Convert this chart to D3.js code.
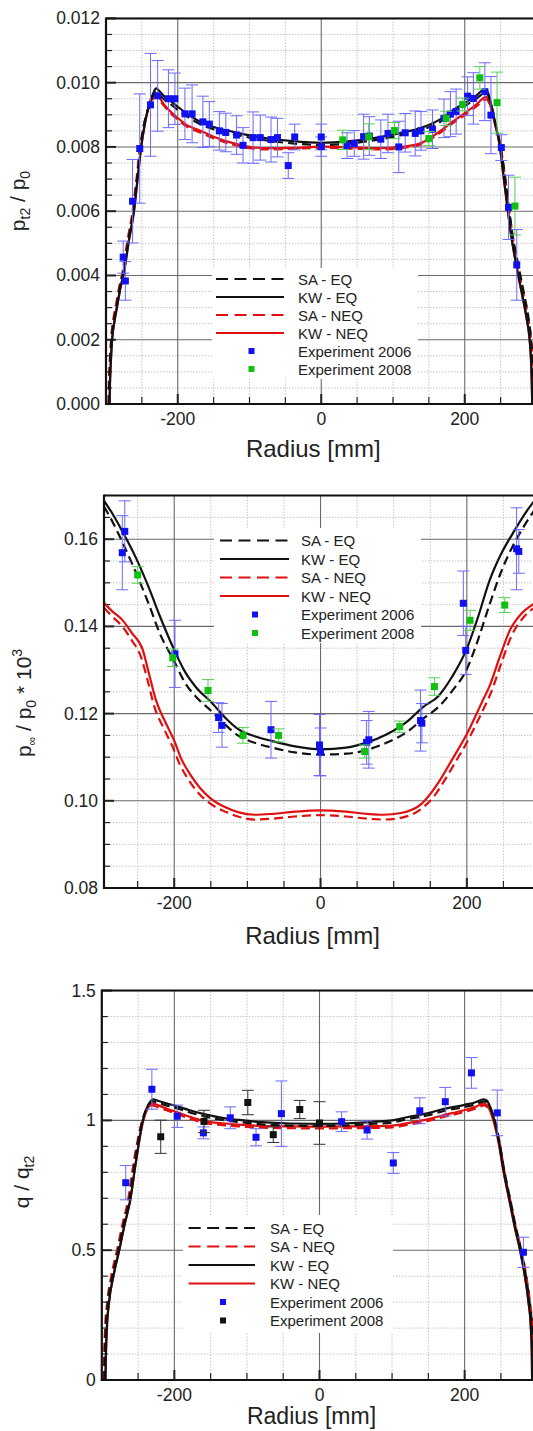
<!DOCTYPE html>
<html><head><meta charset="utf-8">
<script src="https://cdn.jsdelivr.net/npm/d3@7"></script>
<style>
body{margin:0;background:#fff}
svg{display:block}
text{font-family:"Liberation Sans",Arial,Helvetica,sans-serif;fill:#222}
</style>
</head><body>
<svg id="c" width="533" height="1431"></svg>
<script>
// ---------------- DATA ----------------
const radiusMajor = [-200, 0, 200];
const radiusMinor = [-250, -150, -100, -50, 50, 100, 150, 250];
const radiusTickLabels = ["-200", "0", "200"];

// Panel 1: p_t2 / p_0
const p1YMajor = [0, 0.002, 0.004, 0.006, 0.008, 0.010, 0.012];
const p1YLabels = ["0.000", "0.002", "0.004", "0.006", "0.008", "0.010", "0.012"];
const p1SAEQ = [[-296,0],[-295.5,0.0006],[-294.5,0.0012],[-292.5,0.002],[-289,0.0026],[-285,0.0031],[-281,0.0036],[-276,0.0041],[-269,0.0051],[-262,0.0060],[-257,0.0070],[-252,0.0080],[-247,0.0087],[-241,0.0092],[-235,0.00958],[-231,0.00970],[-227,0.00965],[-220,0.00950],[-210,0.00933],[-200,0.00915],[-185,0.00892],[-170,0.00872],[-150,0.00855],[-123,0.00840],[-100,0.00829],[-76,0.00820],[-40,0.00811],[0,0.00806],[40,0.00811],[80,0.00823],[110,0.00836],[140,0.00853],[165,0.00877],[184,0.00906],[200,0.00928],[215,0.00948],[228,0.00968],[232,0.00963],[237,0.0093],[243,0.0087],[250,0.0080],[256,0.0071],[261,0.0062],[267,0.0052],[274,0.0044],[282,0.0035],[288,0.0028],[292,0.0021],[294.5,0.0013],[295.5,0.0006],[296,0]];
const p1KWEQ = [[-295,0],[-294.5,0.0006],[-293.5,0.0012],[-291.5,0.002],[-288,0.0026],[-284,0.0031],[-280,0.0036],[-275,0.0041],[-268,0.0051],[-261,0.0060],[-256,0.0070],[-251,0.0080],[-246,0.0087],[-240,0.0093],[-234,0.00968],[-230,0.00982],[-226,0.00975],[-220,0.00960],[-210,0.00943],[-200,0.00925],[-185,0.00900],[-170,0.00880],[-150,0.00862],[-123,0.00847],[-100,0.00836],[-76,0.00827],[-40,0.00818],[0,0.00813],[40,0.00818],[80,0.00830],[110,0.00843],[140,0.00860],[165,0.00885],[184,0.00915],[200,0.00937],[215,0.00958],[227,0.00978],[231,0.00975],[236,0.0094],[242,0.0088],[249,0.0080],[254,0.0071],[259,0.0062],[265,0.0052],[272,0.0043],[280,0.0034],[286,0.0027],[290,0.0021],[292.5,0.0013],[293.5,0.0006],[294,0]];
const p1SANEQ = [[-296.5,0],[-296,0.0006],[-295,0.0012],[-293,0.002],[-290,0.0026],[-286,0.0031],[-282,0.0036],[-277,0.0041],[-270,0.0051],[-263,0.0060],[-257.5,0.0070],[-252.5,0.0080],[-247,0.0087],[-241,0.0092],[-235,0.00948],[-231,0.00958],[-227,0.00950],[-220,0.00930],[-210,0.00905],[-200,0.00885],[-185,0.00860],[-170,0.00846],[-150,0.00827],[-123,0.00807],[-100,0.00796],[-76,0.00792],[-40,0.00794],[0,0.00797],[40,0.00795],[80,0.00792],[110,0.00796],[138,0.00807],[160,0.00835],[184,0.00875],[200,0.00899],[215,0.00924],[231,0.00948],[235,0.0093],[241,0.0088],[250,0.0080],[256,0.0071],[261,0.0062],[267,0.0052],[274,0.0043],[282,0.0034],[288,0.0027],[292,0.0021],[294.5,0.0013],[295.5,0.0006],[296,0]];
const p1KWNEQ = [[-295,0],[-294.5,0.0006],[-293.5,0.0012],[-291.5,0.002],[-288,0.0026],[-284,0.0031],[-280,0.0036],[-275,0.0041],[-268,0.0051],[-261,0.0060],[-256,0.0070],[-251,0.0080],[-246,0.0087],[-240,0.0093],[-234,0.00955],[-230,0.00966],[-226,0.00955],[-220,0.00935],[-210,0.00910],[-200,0.00890],[-185,0.00865],[-170,0.00852],[-150,0.00832],[-123,0.00812],[-100,0.00800],[-76,0.00796],[-40,0.00797],[0,0.00801],[40,0.00799],[80,0.00796],[110,0.00800],[138,0.00811],[160,0.00840],[184,0.00880],[200,0.00905],[215,0.00930],[230,0.00956],[234,0.0094],[240,0.0089],[249,0.0080],[254,0.0071],[259,0.0062],[265,0.0052],[272,0.0043],[280,0.0034],[286,0.0027],[290,0.0021],[292.5,0.0013],[293.5,0.0006],[294,0]];
// [radius, value, error]
const p1Exp2006 = [[-276,0.00457,0.0005],[-273,0.00383,0.0006],[-263,0.00631,0.0013],[-253,0.00795,0.0017],[-238,0.00931,0.0016],[-228,0.00959,0.0011],[-213,0.0095,0.0009],[-204,0.0095,0.0008],[-190,0.00903,0.0008],[-180,0.00903,0.0009],[-165,0.00878,0.0008],[-156,0.00871,0.0007],[-142,0.0085,0.0006],[-133,0.00845,0.0006],[-118,0.00837,0.0006],[-109,0.00805,0.00055],[-95,0.00829,0.0008],[-85,0.00829,0.0007],[-70,0.00823,0.0007],[-61,0.00829,0.0006],[-46,0.00742,0.0004],[-37,0.00831,0.0004],[0,0.00831,0.0004],[0,0.00801,0.0003],[36,0.00804,0.0004],[46,0.00811,0.0004],[59,0.00832,0.0007],[67,0.00834,0.0006],[83,0.00824,0.0006],[93,0.00842,0.0006],[108,0.00800,0.0008],[117,0.00844,0.0006],[131,0.00842,0.0007],[139,0.0085,0.0006],[155,0.00855,0.0006],[171,0.00889,0.0006],[180,0.00902,0.0007],[188,0.0091,0.0007],[204,0.00958,0.0006],[212,0.00951,0.0008],[228,0.00972,0.0009],[236.5,0.00899,0.0012],[251,0.00798,0.0004],[261,0.00612,0.001],[272.5,0.00433,0.0011]];
const p1Exp2008 = [[30,0.00822,0.0003],[66,0.00832,0.0004],[102,0.00851,0.00025],[150,0.00826,0.00022],[174,0.00889,0.00022],[197,0.00932,0.0002],[221,0.01015,0.00035],[245,0.00938,0.00095],[270,0.00616,0.0009]];

// Panel 2: p_inf / p_0 * 10^3
const p2YMajor = [0.08, 0.10, 0.12, 0.14, 0.16];
const p2YLabels = ["0.08", "0.10", "0.12", "0.14", "0.16"];
const p2SAEQ = [[-296,0.1675],[-285,0.1642],[-270,0.1590],[-252,0.1522],[-235,0.1452],[-220,0.1385],[-200,0.1320],[-185,0.1270],[-170,0.1238],[-150,0.1207],[-130,0.1174],[-113,0.1150],[-90,0.1133],[-66,0.1122],[-35,0.1111],[0,0.1106],[35,0.1108],[64,0.1117],[90,0.1133],[120,0.1160],[140,0.1188],[161,0.1215],[180,0.1252],[200,0.1302],[215,0.1368],[231,0.1450],[248,0.1530],[263,0.1585],[280,0.1635],[300,0.1685]];
const p2KWEQ = [[-296,0.1688],[-285,0.1660],[-270,0.1615],[-252,0.1556],[-235,0.1490],[-220,0.1425],[-200,0.1346],[-185,0.1295],[-170,0.1260],[-150,0.1227],[-130,0.1190],[-113,0.1165],[-90,0.1148],[-66,0.1137],[-35,0.1125],[0,0.1118],[35,0.1122],[64,0.1134],[90,0.1152],[120,0.1184],[140,0.1215],[161,0.1240],[180,0.1285],[200,0.1349],[215,0.1420],[231,0.1505],[248,0.1570],[263,0.1614],[280,0.1660],[300,0.1705]];
const p2SANEQ = [[-296,0.1443],[-285,0.1423],[-271,0.1400],[-258,0.1368],[-245,0.1328],[-237,0.1280],[-227,0.1215],[-214,0.1165],[-202,0.1123],[-192,0.1082],[-180,0.1047],[-167,0.1018],[-152,0.0995],[-130,0.0975],[-113,0.0964],[-90,0.0957],[-66,0.0959],[-35,0.0964],[0,0.0967],[35,0.0964],[64,0.0959],[86,0.0957],[110,0.0961],[138,0.0982],[154,0.1008],[167,0.1040],[182,0.1082],[202,0.1140],[214,0.1180],[224,0.1215],[233,0.1248],[247,0.1315],[261,0.1378],[277,0.1420],[290,0.1440],[300,0.1450]];
const p2KWNEQ = [[-296,0.1454],[-285,0.1435],[-271,0.1415],[-258,0.1385],[-243,0.1346],[-235,0.1295],[-225,0.1231],[-212,0.1180],[-200,0.1138],[-190,0.1095],[-178,0.1060],[-165,0.1030],[-150,0.1005],[-130,0.0985],[-113,0.0974],[-90,0.0968],[-66,0.0970],[-35,0.0975],[0,0.0978],[35,0.0975],[64,0.0970],[86,0.0968],[110,0.0972],[138,0.0993],[152,0.1020],[165,0.1052],[180,0.1095],[200,0.1153],[212,0.1195],[222,0.1231],[231,0.1263],[245,0.1330],[259,0.1392],[275,0.1430],[290,0.1450],[300,0.1460]];
const p2Exp2006 = [[-271,0.1569,0.0085],[-267.6,0.1618,0.007],[-199,0.1337,0.0077],[-139.3,0.1191,0.0034],[-134.7,0.1173,0.005],[-67.7,0.1163,0.0065],[-1.4,0.1128,0.007],[0,0.1112,0.0055],[66,0.1140,0.0065],[63,0.1134,0.005],[136.7,0.1184,0.0070],[138.5,0.1178,0.0045],[195.2,0.1453,0.0074],[198.5,0.1345,0.0055],[268,0.1578,0.0094],[271,0.1572,0.005]];
const p2Exp2008 = [[-250,0.1518,0.0019],[-202,0.1328,0.002],[-153.8,0.1253,0.0025],[-106,0.1150,0.0018],[-57.3,0.1150,0.0015],[60.4,0.1113,0.0015],[108.3,0.1170,0.0013],[155.7,0.1262,0.002],[204.4,0.1414,0.0023],[251.8,0.1449,0.0017]];

// Panel 3: q / q_t2
const p3YMajor = [0, 0.5, 1, 1.5];
const p3YLabels = ["0", "0.5", "1", "1.5"];
const p3SAEQ = [[-296.5,0],[-295.8,0.1],[-294.5,0.2],[-291.5,0.3],[-285.5,0.4],[-277.5,0.5],[-270,0.6],[-262.5,0.69],[-254.5,0.84],[-245,0.99],[-237.5,1.05],[-230,1.073],[-222,1.067],[-210,1.057],[-197,1.047],[-180,1.032],[-159,1.016],[-130,1.0],[-112,0.994],[-80,0.985],[-40,0.980],[0,0.979],[40,0.981],[75,0.987],[100,0.992],[122,1.005],[150,1.02],[168,1.034],[200,1.052],[215,1.062],[227,1.073],[232,1.066],[237.5,1.035],[242.5,0.99],[248.5,0.91],[254.5,0.81],[264,0.68],[270.5,0.59],[278,0.5],[284.5,0.4],[289.5,0.3],[292.8,0.2],[294,0.1],[294.5,0]];
const p3KWEQ = [[-295,0],[-294.3,0.1],[-293,0.2],[-290,0.3],[-284,0.4],[-276,0.5],[-268.5,0.6],[-261,0.69],[-253,0.84],[-243.5,1.0],[-236,1.06],[-229,1.081],[-222,1.075],[-210,1.065],[-197,1.055],[-180,1.04],[-159,1.024],[-130,1.008],[-112,1.002],[-80,0.993],[-40,0.988],[0,0.987],[40,0.989],[75,0.995],[100,1.0],[122,1.013],[150,1.028],[168,1.042],[200,1.06],[215,1.07],[226,1.081],[231,1.075],[236,1.045],[241,1.0],[247,0.92],[253,0.817],[262.4,0.686],[269,0.59],[276.4,0.5],[283,0.4],[288,0.3],[291.3,0.2],[292.6,0.1],[293,0]];
const p3SANEQ = [[-297.5,0],[-296.8,0.1],[-295.5,0.2],[-292.5,0.3],[-287,0.4],[-279,0.5],[-271.5,0.6],[-264,0.69],[-256,0.84],[-246,0.98],[-238.5,1.04],[-231,1.058],[-222,1.05],[-210,1.038],[-197,1.025],[-180,1.008],[-159,0.99],[-130,0.981],[-112,0.977],[-80,0.972],[-40,0.970],[0,0.969],[40,0.970],[75,0.971],[100,0.973],[122,0.983],[150,0.998],[168,1.011],[200,1.033],[215,1.045],[227,1.058],[232,1.05],[238,1.02],[243,0.975],[249,0.9],[255,0.8],[264.5,0.67],[271,0.58],[278.5,0.5],[285,0.4],[290,0.3],[293.3,0.2],[294.6,0.1],[295,0]];
const p3KWNEQ = [[-295,0],[-294.3,0.1],[-293,0.2],[-290,0.3],[-284,0.4],[-276,0.5],[-268.5,0.6],[-261,0.69],[-253,0.84],[-243.5,0.99],[-236,1.05],[-229,1.065],[-222,1.058],[-210,1.045],[-197,1.032],[-180,1.015],[-159,0.997],[-130,0.988],[-112,0.984],[-80,0.979],[-40,0.977],[0,0.976],[40,0.977],[75,0.978],[100,0.98],[122,0.99],[150,1.005],[168,1.018],[200,1.04],[215,1.052],[226,1.065],[231,1.058],[236,1.03],[241,0.985],[247,0.91],[253,0.81],[262.4,0.68],[269,0.59],[276.4,0.5],[283,0.4],[288,0.3],[291.3,0.2],[292.6,0.1],[293,0]];
const p3Exp2006 = [[-267,0.760,0.066],[-231,1.120,0.077],[-196,1.016,0.043],[-160,0.952,0.023],[-123,1.010,0.042],[-87.5,0.935,0.033],[-52.5,1.026,0.126],[30.5,0.995,0.038],[65.6,0.963,0.035],[101.7,0.836,0.04],[138.2,1.037,0.05],[173.3,1.072,0.055],[209.4,1.183,0.059],[245,1.029,0.088],[281,0.492,0.058]];
const p3Exp2008 = [[-218.8,0.937,0.064],[-159.2,0.996,0.043],[-98.8,1.069,0.047],[-63.7,0.945,0.03],[-27.2,1.042,0.035],[0,0.990,0.082]];

// ---------------- DRAWING ----------------
const svg = d3.select("#c");
const RED = "#e01010", BLUE = "#1010f0", GREEN = "#10c010", BLACK = "#111";

function panel(cfg, idx) {
  const x = d3.scaleLinear().domain(cfg.xDomain).range(cfg.xRange);
  const y = d3.scaleLinear().domain(cfg.yDomain).range(cfg.yRange);
  const left = x(cfg.xDomain[0]), right = x(cfg.xDomain[1]);
  const bottom = y(cfg.yDomain[0]), top = y(cfg.yDomain[1]);
  const g = svg.append("g");
  const clipId = "clip" + idx;
  svg.append("defs").append("clipPath").attr("id", clipId)
    .append("rect").attr("x", left).attr("y", top).attr("width", right - left).attr("height", bottom - top);

  // minor grid
  g.selectAll(null).data(radiusMinor).join("line")
    .attr("x1", d => x(d)).attr("x2", d => x(d)).attr("y1", bottom).attr("y2", top)
    .attr("stroke", "#b8b8b8").attr("stroke-width", 0.8).attr("stroke-dasharray", "1.5,1.5");
  g.selectAll(null).data(cfg.yMinor).join("line")
    .attr("x1", left).attr("x2", right).attr("y1", d => y(d)).attr("y2", d => y(d))
    .attr("stroke", "#b8b8b8").attr("stroke-width", 0.8).attr("stroke-dasharray", "1.5,1.5");
  // major grid
  g.selectAll(null).data(radiusMajor).join("line")
    .attr("x1", d => x(d)).attr("x2", d => x(d)).attr("y1", bottom).attr("y2", top)
    .attr("stroke", "#6a6a6a").attr("stroke-width", 1.1);
  g.selectAll(null).data(cfg.yMajor).join("line")
    .attr("x1", left).attr("x2", right).attr("y1", d => y(d)).attr("y2", d => y(d))
    .attr("stroke", "#6a6a6a").attr("stroke-width", 1.1);

  // legend background
  const L = cfg.legend;
  g.append("rect").attr("x", L.box[0]).attr("y", L.box[1]).attr("width", L.box[2]).attr("height", L.box[3]).attr("fill", "#fff");

  // ticks
  g.selectAll(null).data(cfg.yMinor).join("line")
    .attr("x1", left).attr("x2", left + 6).attr("y1", d => y(d)).attr("y2", d => y(d))
    .attr("stroke", "#222").attr("stroke-width", 1.2);
  g.selectAll(null).data(radiusMinor).join("line")
    .attr("x1", d => x(d)).attr("x2", d => x(d)).attr("y1", bottom).attr("y2", bottom - 7)
    .attr("stroke", "#222").attr("stroke-width", 1.2);
  g.selectAll(null).data(radiusMajor).join("line")
    .attr("x1", d => x(d)).attr("x2", d => x(d)).attr("y1", bottom).attr("y2", bottom - 10)
    .attr("stroke", "#222").attr("stroke-width", 2);
  g.selectAll(null).data(cfg.yMajor).join("line")
    .attr("x1", left).attr("x2", left + 10).attr("y1", d => y(d)).attr("y2", d => y(d))
    .attr("stroke", "#222").attr("stroke-width", 2);

  const plot = g.append("g").attr("clip-path", `url(#${clipId})`);
  const line = d3.line().x(d => x(d[0])).y(d => y(d[1])).curve(d3.curveMonotoneX);
  cfg.series.forEach(s => {
    plot.append("path").datum(s.data).attr("d", line)
      .attr("fill", "none").attr("stroke", s.color).attr("stroke-width", 2.2)
      .attr("stroke-dasharray", s.dash ? "9,5" : null);
  });
  // experiments
  cfg.exps.forEach(e => {
    const eg = plot.append("g");
    const cap = 6;
    eg.selectAll(null).data(e.data).join("path")
      .attr("d", d => {
        const cx = x(d[0]), y1 = y(d[1] + d[2]), y2 = y(d[1] - d[2]);
        return `M${cx},${y1}V${y2}M${cx - cap},${y1}H${cx + cap}M${cx - cap},${y2}H${cx + cap}`;
      })
      .attr("fill", "none").attr("stroke", e.bar).attr("stroke-width", 1);
    eg.selectAll(null).data(e.data).join("rect")
      .attr("x", d => x(d[0]) - 3.5).attr("y", d => y(d[1]) - 3.5)
      .attr("width", 7).attr("height", 7).attr("fill", e.color);
  });

  // frame
  g.append("line").attr("x1", left).attr("x2", right).attr("y1", top).attr("y2", top).attr("stroke", "#111").attr("stroke-width", 2);
  g.append("line").attr("x1", left).attr("x2", left).attr("y1", top - 1).attr("y2", bottom + 1).attr("stroke", "#111").attr("stroke-width", 2.2);
  g.append("line").attr("x1", left - 1).attr("x2", right).attr("y1", bottom).attr("y2", bottom).attr("stroke", "#111").attr("stroke-width", 2.2);
  g.append("line").attr("x1", right).attr("x2", right).attr("y1", top).attr("y2", bottom).attr("stroke", "#111").attr("stroke-width", 2);

  // tick labels
  g.selectAll(null).data(cfg.yMajor).join("text")
    .attr("x", left - 6).attr("y", d => y(d) + 6).attr("text-anchor", "end")
    .attr("font-size", 17.5).text((d, i) => cfg.yLabels[i]);
  g.selectAll(null).data(radiusMajor).join("text")
    .attr("x", d => x(d)).attr("y", bottom + 21).attr("text-anchor", "middle")
    .attr("font-size", 17.5).text((d, i) => radiusTickLabels[i]);
  g.append("text").attr("x", x(0) - 8).attr("y", cfg.xTitleY).attr("text-anchor", "middle")
    .attr("font-size", cfg.xTitleSize).text("Radius [mm]");

  // y title
  const yt = g.append("text").attr("transform", `translate(${cfg.yTitle[0]},${cfg.yTitle[1]}) rotate(-90)`)
    .attr("text-anchor", "middle").attr("font-size", 21);
  cfg.yTitleParts.forEach(p => {
    const t = yt.append("tspan").text(p.t);
    if (p.dy) t.attr("dy", p.dy);
    if (p.fs) t.attr("font-size", p.fs);
  });

  // legend entries
  L.items.forEach((it, i) => {
    const ry = L.row0 + i * L.step;
    if (it.marker) {
      g.append("rect").attr("x", L.mark - 3).attr("y", ry - 3).attr("width", 6).attr("height", 6).attr("fill", it.color);
    } else {
      g.append("line").attr("x1", L.line[0]).attr("x2", L.line[1]).attr("y1", ry).attr("y2", ry)
        .attr("stroke", it.color).attr("stroke-width", 2.2).attr("stroke-dasharray", it.dash ? "12,6.5" : null);
    }
    g.append("text").attr("x", L.text).attr("y", ry + 5.5).attr("font-size", 15).text(it.label);
  });
}

const legend4 = (order, exp2Color) => order.map(k => ({
  "SA - EQ": {label: "SA - EQ", color: BLACK, dash: true},
  "KW - EQ": {label: "KW - EQ", color: BLACK},
  "SA - NEQ": {label: "SA - NEQ", color: RED, dash: true},
  "KW - NEQ": {label: "KW - NEQ", color: RED},
  "Experiment 2006": {label: "Experiment 2006", color: BLUE, marker: true},
  "Experiment 2008": {label: "Experiment 2008", color: exp2Color, marker: true}
}[k]));

const orderA = ["SA - EQ", "KW - EQ", "SA - NEQ", "KW - NEQ", "Experiment 2006", "Experiment 2008"];
const orderB = ["SA - EQ", "SA - NEQ", "KW - EQ", "KW - NEQ", "Experiment 2006", "Experiment 2008"];

panel({
  xDomain: [-300, 300], xRange: [106.0, 536.5],
  yDomain: [0, 0.012], yRange: [404, 18.4],
  yMajor: p1YMajor, yLabels: p1YLabels,
  yMinor: d3.range(0.0005, 0.012, 0.0005).filter(v => Math.abs(v / 0.002 - Math.round(v / 0.002)) > 1e-6),
  series: [
    {data: p1SANEQ, color: RED, dash: true},
    {data: p1KWNEQ, color: RED},
    {data: p1SAEQ, color: BLACK, dash: true},
    {data: p1KWEQ, color: BLACK}
  ],
  exps: [
    {data: p1Exp2006, color: BLUE, bar: "#6a6aff"},
    {data: p1Exp2008, color: GREEN, bar: "#55d055"}
  ],
  xTitleY: 457, xTitleSize: 24, yTitle: [25, 201],
  yTitleParts: [{t: "p"}, {t: "t2", dy: 5, fs: 14}, {t: " / p", dy: -5}, {t: "0", dy: 5, fs: 14}],
  legend: {box: [212, 268, 206, 111], row0: 279, step: 18, line: [216, 284], mark: 251.5, text: 298, items: legend4(orderA, GREEN)}
}, 1);

panel({
  xDomain: [-296, 300], xRange: [104.0, 540.0],
  yDomain: [0.08, 0.17], yRange: [888, 495.6],
  yMajor: p2YMajor, yLabels: p2YLabels,
  yMinor: [0.085, 0.09, 0.095, 0.105, 0.11, 0.115, 0.125, 0.13, 0.135, 0.145, 0.15, 0.155, 0.165],
  series: [
    {data: p2SANEQ, color: RED, dash: true},
    {data: p2KWNEQ, color: RED},
    {data: p2SAEQ, color: BLACK, dash: true},
    {data: p2KWEQ, color: BLACK}
  ],
  exps: [
    {data: p2Exp2006, color: BLUE, bar: "#6a6aff"},
    {data: p2Exp2008, color: GREEN, bar: "#55d055"}
  ],
  xTitleY: 944, xTitleSize: 24, yTitle: [31, 703],
  yTitleParts: [{t: "p"}, {t: "\u221E", dy: 5, fs: 12}, {t: " / p", dy: -5}, {t: "0", dy: 5, fs: 14}, {t: " * 10", dy: -5}, {t: "3", dy: -9, fs: 14}],
  legend: {box: [214, 528, 207, 115], row0: 540.5, step: 18.5, line: [220, 289], mark: 255, text: 301, items: legend4(orderA, GREEN)}
}, 2);

panel({
  xDomain: [-300, 300], xRange: [101.8, 537.2],
  yDomain: [0, 1.5], yRange: [1380, 990.6],
  yMajor: p3YMajor, yLabels: p3YLabels,
  yMinor: [0.1, 0.2, 0.3, 0.4, 0.6, 0.7, 0.8, 0.9, 1.1, 1.2, 1.3, 1.4],
  series: [
    {data: p3SANEQ, color: RED, dash: true},
    {data: p3KWNEQ, color: RED},
    {data: p3SAEQ, color: BLACK, dash: true},
    {data: p3KWEQ, color: BLACK}
  ],
  exps: [
    {data: p3Exp2006, color: BLUE, bar: "#6a6aff"},
    {data: p3Exp2008, color: BLACK, bar: "#333"}
  ],
  xTitleY: 1424, xTitleSize: 23, yTitle: [29, 1182],
  yTitleParts: [{t: "q / q"}, {t: "t2", dy: 5, fs: 14}],
  legend: {box: [183, 1215, 210, 118], row0: 1228, step: 18.5, line: [188.6, 255], mark: 223, text: 270, items: legend4(orderB, BLACK)}
}, 3);
</script>
</body></html>
